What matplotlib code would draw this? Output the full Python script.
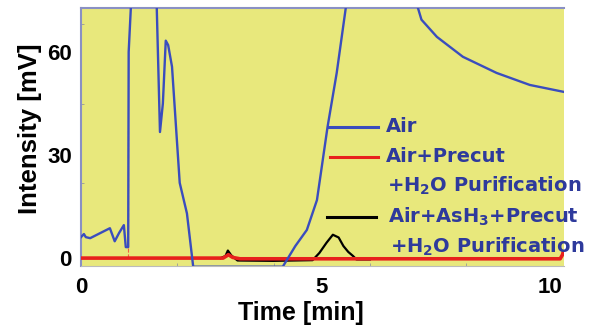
import numpy as np
import matplotlib
matplotlib.use("Agg")
from matplotlib import pyplot as plt

# Air (blue) trace, values above the top are clipped by the axes
air_t = [0.0, 0.06, 0.10, 0.19, 0.60, 0.70, 0.79, 0.89, 0.93, 0.98, 0.99, 1.06, 1.30, 1.56,
         1.64, 1.70, 1.76, 1.81, 1.89, 2.05, 2.20, 2.33,
         4.19, 4.45, 4.69, 4.90, 5.12, 5.31, 5.52, 6.20, 6.95,
         7.07, 7.39, 7.93, 8.63, 9.32, 10.02]
air_v = [6.1, 7.0, 6.1, 5.8, 8.7, 4.9, 7.3, 9.6, 3.2, 3.2, 60.0, 80.0, 110.0, 80.0,
         36.7, 45.0, 63.3, 62.0, 55.7, 21.9, 13.0, -2.5,
         -2.5, 3.5, 8.2, 16.9, 38.2, 53.9, 75.0, 110.0, 75.0,
         69.4, 64.4, 58.6, 53.9, 50.4, 48.4]

# Air + Precut + H2O purification (red)
red_t = [0.0, 2.95, 3.02, 3.06, 3.15, 3.30, 6.0, 9.95, 10.0, 10.02]
red_v = [0.0, 0.0, 0.6, 1.0, 0.2, -0.2, -0.2, -0.2, 1.0, 2.2]

# Air + AsH3 + Precut + H2O purification (black)
blk_t = [2.90, 3.00, 3.05, 3.12, 3.25, 4.00, 4.81, 4.95, 5.10, 5.23, 5.35, 5.45, 5.55, 5.65, 5.72, 6.0]
blk_v = [0.0, 0.6, 2.2, 0.8, -0.7, -0.8, -0.6, 1.5, 4.5, 6.8, 6.0, 3.5, 1.8, 0.6, -0.4, -0.4]

legend_labels = ["Air", "Air+Precut", "+H$_\\mathbf{2}$O Purification",
                 "Air+AsH$_\\mathbf{3}$+Precut", "+H$_\\mathbf{2}$O Purification"]

yellow = "#E8E87C"
blue = "#3A4DBE"
txtblue = "#2E3A9C"
lab_font = "Liberation Sans"

fig = plt.figure(figsize=(5.93, 3.25), dpi=100)
ax = fig.add_axes([81/593, 1 - 266/325, (564-81)/593, (266-8)/325])
ax.set_facecolor(yellow)

ax.plot(red_t, red_v, color="#E8201C", lw=2.6, solid_capstyle="butt", zorder=3)
ax.plot([0.98, 0.98], [0, 38], color="#F06040", lw=0.8, ls="--", zorder=2)
ax.plot(blk_t, blk_v, color="black", lw=1.6, zorder=2.5)
ax.plot(air_t, air_v, color=blue, lw=1.7, zorder=5)

ax.set_xlim(0, 10.03)
ax.set_ylim(-2.3, 72.8)

ax.set_xticks([0, 5, 10])
ax.set_xticklabels(["0", "5", "10"], fontsize=16, fontweight="bold", fontfamily=lab_font)
ax.get_xticklabels()[2].set_horizontalalignment("right")
ax.set_yticks([0, 30, 60])
ax.set_yticklabels(["0", "30", "60"], fontsize=16, fontweight="bold", fontfamily=lab_font)
ax.tick_params(axis="y", length=0, pad=6.5)
ax.tick_params(axis="x", length=0, pad=8)
ax.set_xticks([2, 4, 6, 8], minor=True)
ax.set_yticks([22, 45, 68], minor=True)
ax.tick_params(which="minor", length=2, color="#999999", direction="in")

for s in ["left", "top"]:
    ax.spines[s].set_color("#8A90C4")
    ax.spines[s].set_linewidth(1.5)
ax.spines["bottom"].set_color("#BBBBBB")
ax.spines["right"].set_visible(False)

fig.text(30/593, 1 - 129/325, "Intensity [mV]", rotation=90, ha="center", va="center",
         fontsize=18.5, fontweight="bold", fontfamily=lab_font)
fig.text(301/593, 1 - 313/325, "Time [min]", ha="center", va="center",
         fontsize=18, fontweight="bold", fontfamily=lab_font)

# legend drawn by hand
handles = [(329, 378, 127, blue), (330, 378, 157, "#E8201C"), (327, 376, 217, "black")]
for x0, x1, y, c in handles:
    fig.add_artist(plt.Line2D([x0/593, x1/593], [1 - y/325, 1 - y/325], color=c, lw=2.2))
text_pos = [(386, 127), (386, 157), (387, 186), (388, 217), (390, 247)]
for (x, y), lab in zip(text_pos, legend_labels):
    fig.text(x/593, 1 - y/325, lab, ha="left", va="center", color=txtblue,
             fontsize=14, fontweight="bold", fontfamily="DejaVu Sans")

fig.savefig("out.png", dpi=100)
